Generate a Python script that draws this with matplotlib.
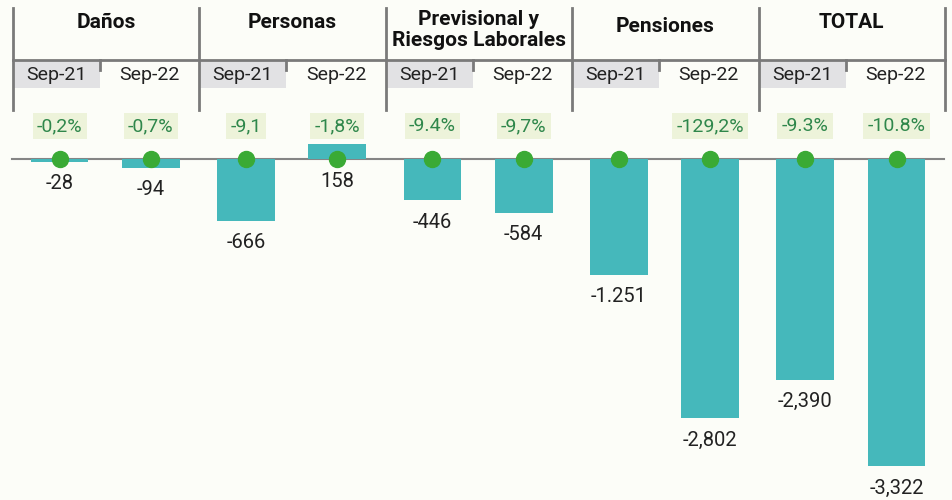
import matplotlib.pyplot as plt
import matplotlib.transforms as mtransforms

plt.rcParams['font.family'] = ['Roboto', 'DejaVu Sans']

# datos
grupos = ["Daños", "Personas", "Previsional y\nRiesgos Laborales", "Pensiones", "TOTAL"]
periodos = ["Sep-21", "Sep-22"]
valores = [-28, -94, -666, 158, -446, -584, -1251, -2802, -2390, -3322]
etiquetas = ["-28", "-94", "-666", "158", "-446", "-584", "-1.251", "-2,802", "-2,390", "-3,322"]
variacion = ["-0,2%", "-0,7%", "-9,1", "-1,8%", "-9.4%", "-9,7%", "", "-129,2%", "-9.3%", "-10.8%"]

bar_color = "#45b8bb"
dot_color = "#3aaa35"
fondo = "#fcfdf8"

W, H = 953, 500
GW = 186.4  # ancho de grupo en pixeles
fig = plt.figure(figsize=(W / 100, H / 100), dpi=100, facecolor=fondo)
ax = fig.add_axes([0, 0, 1, 1])
ax.set_facecolor(fondo)
ax.axis("off")

# x en unidades de grupo, limites de grupo en enteros
ax.set_xlim(-13 / GW, (W - 13) / GW)
ax.set_ylim(-3690, 1721)

xs = [g + 0.25 + 0.49 * s for g in range(len(grupos)) for s in range(2)]

def fy(px):
    # posicion vertical en pixeles desde arriba -> fraccion de ejes
    return 1 - px / H

tr = mtransforms.blended_transform_factory(ax.transData, ax.transAxes)

ax.bar(xs, valores, width=0.31, color=bar_color, zorder=2)
ax.axhline(0, xmin=12 / W, xmax=944 / W, color="#858585", lw=1.5, zorder=1)
ax.plot(xs, [0] * len(xs), "o", color=dot_color, markersize=11.5, zorder=3)

for x, v, lab in zip(xs, valores, etiquetas):
    ax.annotate(lab, (x, min(v, 0)), xytext=(0, -22), textcoords="offset pixels",
                ha="center", va="center", fontsize=14.5, color="#222222")

for x, p in zip(xs, variacion):
    if p:
        ax.text(x, fy(126), p, transform=tr, ha="center", va="center", fontsize=14,
                color="#2f874b",
                bbox=dict(boxstyle="square,pad=0.22", facecolor="#edf3da", edgecolor="none"))

# cabecera
linea = "#7a7a7a"
ax.plot([0, len(grupos)], [fy(60)] * 2, transform=tr, color=linea, lw=2, clip_on=False)
for g in range(len(grupos) + 1):
    ax.plot([g, g], [fy(8), fy(110)], transform=tr, color=linea, lw=2, clip_on=False)

for g, nombre in enumerate(grupos):
    y_tit = 30 if "\n" in nombre else (27 if nombre == "Pensiones" else 22)
    ax.text(g + 0.5, fy(y_tit), nombre, transform=tr, ha="center", va="center",
            fontsize=15, fontweight="bold", color="#111111", linespacing=1.1)
    sub = g + 87 / GW
    ax.fill_between([g, sub], fy(88), fy(60), transform=tr, color="#e2e2e4", lw=0, zorder=0)
    ax.plot([sub, sub], [fy(60), fy(70)], transform=tr, color=linea, lw=2)
    ax.text((g + sub) / 2, fy(75), periodos[0], transform=tr, ha="center", va="center",
            fontsize=14, color="#222222")
    ax.text((sub + g + 1) / 2, fy(75), periodos[1], transform=tr, ha="center", va="center",
            fontsize=14, color="#222222")

fig.savefig("out.png", dpi=100, facecolor=fondo)
